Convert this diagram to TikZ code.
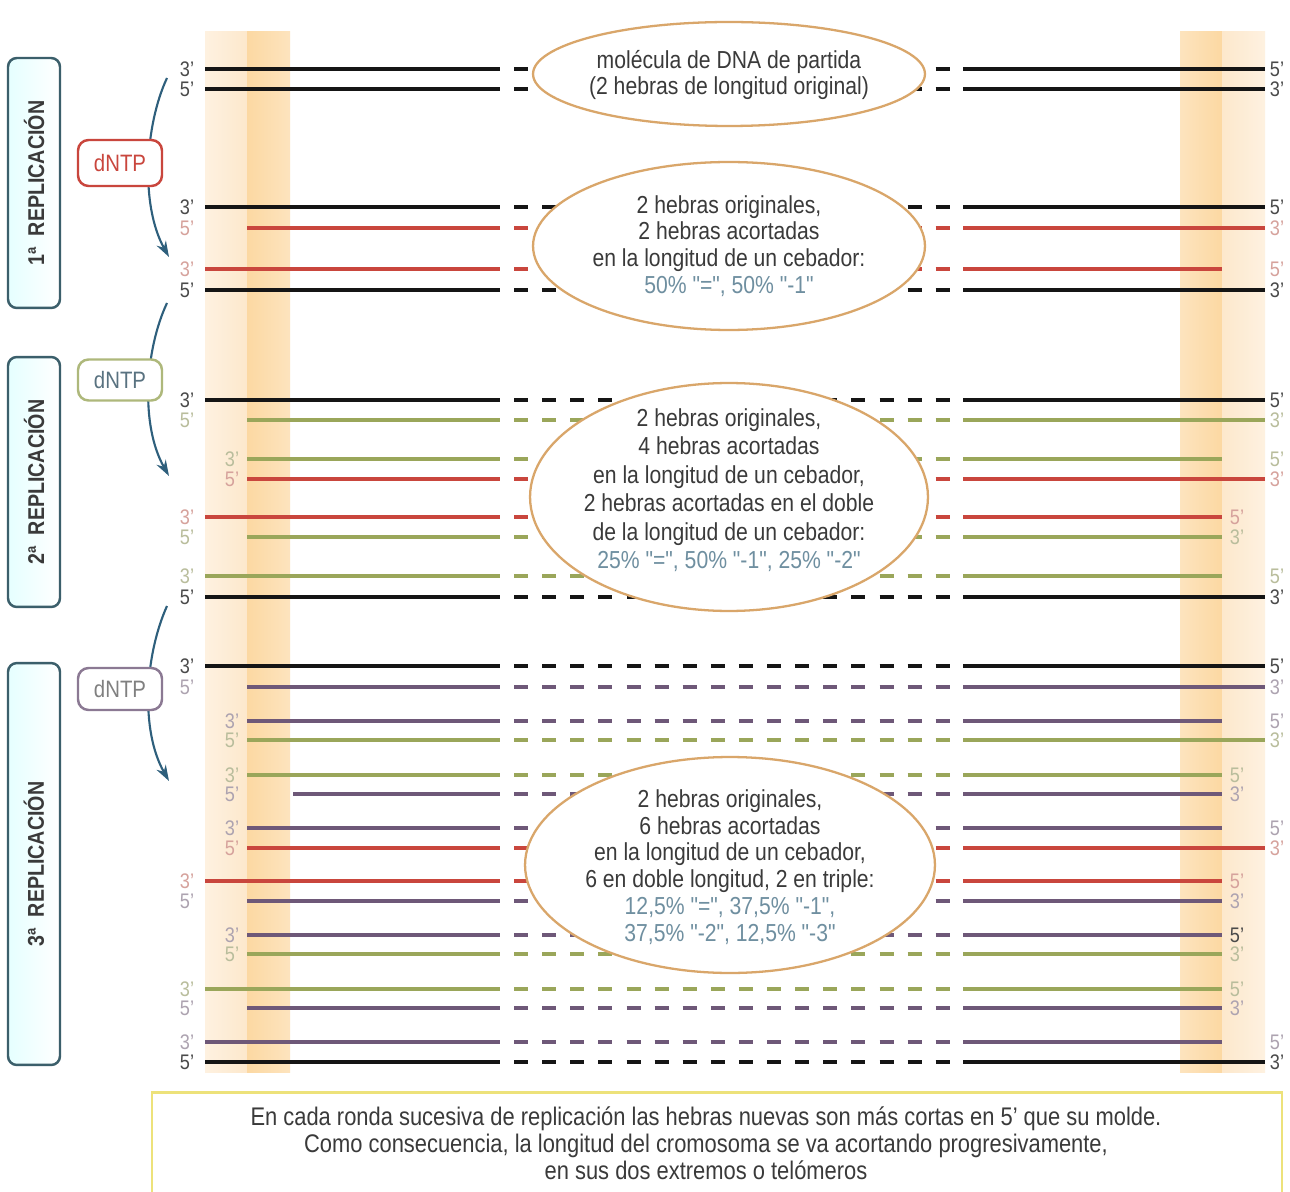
\documentclass[tikz,border=0pt]{standalone}
\usepackage{fontspec}
\setmainfont{Liberation Sans}[FakeStretch=0.86]
\newfontfamily\nomapfont{Liberation Sans}[FakeStretch=0.86,Ligatures=TeXOff]
\newcommand{\dq}{{\nomapfont"}}
\usetikzlibrary{shapes.geometric,arrows.meta}
\definecolor{blk}{HTML}{151515}
\definecolor{rd}{HTML}{C9463D}
\definecolor{gr}{HTML}{9AA65A}
\definecolor{pu}{HTML}{6E5878}
\definecolor{bandA}{HTML}{FDE8CC}
\definecolor{bandB}{HTML}{FCD8A2}
\definecolor{ellc}{HTML}{D9A66A}
\definecolor{arrc}{HTML}{2E5F7C}
\definecolor{boxc}{HTML}{3B5F6B}
\definecolor{pct}{HTML}{6F8FA0}
\definecolor{txt}{HTML}{3A3A3A}
\definecolor{labk}{HTML}{4A4A4A}
\definecolor{labl}{HTML}{ABABAB}
\definecolor{labr}{HTML}{D6A29C}
\definecolor{labg}{HTML}{B9BD9C}
\definecolor{labp}{HTML}{ADA3B0}
\definecolor{bottomc}{HTML}{EDE27A}
\tikzset{
  kline/.style={draw=blk,line width=2.3pt},
  rline/.style={draw=rd,line width=1.9pt},
  gline/.style={draw=gr,line width=1.9pt},
  pline/.style={draw=pu,line width=1.9pt},
  dashpat/.style={dash pattern=on 8pt off 8pt,dash phase=8pt},
  lab/.style={inner sep=0pt,font=\fontsize{12}{12}\selectfont},
  ell/.style={ellipse,draw=ellc,line width=1.3pt,fill=white},
  etext/.style={align=center,text=txt,font=\fontsize{14}{15.2}\selectfont},
  repbox/.style={draw=boxc,line width=1.4pt,rounded corners=5pt,left color=cyan!10,right color=white,minimum width=1.04cm},
  reptext/.style={rotate=90,text=txt,font=\fontsize{13}{15}\selectfont\bfseries},
  dbox/.style={rounded corners=6pt,line width=1.4pt,fill=white,minimum width=1.68cm,font=\fontsize{13.5}{14}\selectfont},
  arr/.style={draw=arrc,line width=1.2pt,-{Stealth[length=9pt,width=6pt]}}
}
\newcommand{\strand}[4]{%
  \draw[#4] (#2,#1) -- (500,#1);
  \draw[#4,dashpat] (500,#1) -- (963,#1);
  \draw[#4] (963,#1) -- (#3,#1);}
\newcommand{\lab}[4]{\node[lab,text=#4] (l-#1-#2) at (#1,#2) {#3};}
\begin{document}
\begin{tikzpicture}[x=0.02cm,y=-0.02cm]
\useasboundingbox (0,0) rectangle (1290,1192);
\fill[white] (0,0) rectangle (1290,1192);
% bands
\shade[left color=bandA!60,right color=bandA] (205,32) rectangle (247,1072);
\shade[left color=bandB,right color=bandB!70] (247,32) rectangle (290,1072);
\shade[left color=bandB!70,right color=bandB] (1180,32) rectangle (1222,1072);
\shade[left color=bandA,right color=bandA!60] (1222,32) rectangle (1265,1072);
% section 0
\strand{69}{205}{1265}{kline}
\strand{89}{205}{1265}{kline}
% section 1
\strand{207}{205}{1265}{kline}
\strand{228}{247}{1265}{rline}
\strand{269}{205}{1222}{rline}
\strand{290}{205}{1265}{kline}
% section 2
\strand{400}{205}{1265}{kline}
\strand{420}{247}{1265}{gline}
\strand{459}{247}{1222}{gline}
\strand{479}{247}{1265}{rline}
\strand{517}{205}{1222}{rline}
\strand{537}{247}{1222}{gline}
\strand{576}{205}{1222}{gline}
\strand{597}{205}{1265}{kline}
% section 3
\strand{666}{205}{1265}{kline}
\strand{687}{247}{1265}{pline}
\strand{721}{247}{1222}{pline}
\strand{740}{247}{1265}{gline}
\strand{775}{247}{1222}{gline}
\strand{794}{293}{1222}{pline}
\strand{828}{247}{1222}{pline}
\strand{848}{247}{1265}{rline}
\strand{881}{205}{1222}{rline}
\strand{901}{247}{1222}{pline}
\strand{935}{247}{1222}{pline}
\strand{954}{247}{1222}{gline}
\strand{989}{205}{1222}{gline}
\strand{1008}{247}{1222}{pline}
\strand{1042}{205}{1222}{pline}
\strand{1062}{205}{1265}{kline}
% ellipses
\node[ell,minimum width=7.84cm,minimum height=2.08cm] (e1) at (729,74) {};
\node[etext] (t1) at (729,75) {molécula de DNA de partida\\(2 hebras de longitud original)};
\node[ell,minimum width=7.84cm,minimum height=3.36cm] (e2) at (729,246) {};
\node[etext] (t2) at (729,246) {2 hebras originales,\\2 hebras acortadas\\en la longitud de un cebador:\\\textcolor{pct}{50\% \dq=\dq, 50\% \dq-1\dq}};
\node[ell,minimum width=7.96cm,minimum height=4.56cm] (e3) at (729,497) {};
\node[etext,font=\fontsize{14}{16.2}\selectfont] (t3) at (729,490) {2 hebras originales,\\4 hebras acortadas\\en la longitud de un cebador,\\2 hebras acortadas en el doble\\de la longitud de un cebador:\\\textcolor{pct}{25\% \dq=\dq, 50\% \dq-1\dq, 25\% \dq-2\dq}};
\node[ell,minimum width=8.2cm,minimum height=4.32cm] (e4) at (730,865) {};
\node[etext] (t4) at (730,867) {2 hebras originales,\\6 hebras acortadas\\en la longitud de un cebador,\\6 en doble longitud, 2 en triple:\\\textcolor{pct}{12,5\% \dq=\dq, 37,5\% \dq-1\dq,}\\\textcolor{pct}{37,5\% \dq-2\dq, 12,5\% \dq-3\dq}};
% left replication boxes
\node[repbox,minimum height=5cm] (r1) at (34,183) {};
\node[reptext] (rt1) at (r1) {1ª\ \ REPLICACIÓN};
\node[repbox,minimum height=5cm] (r2) at (34,482) {};
\node[reptext] (rt2) at (r2) {2ª\ \ REPLICACIÓN};
\node[repbox,minimum height=8.04cm] (r3) at (34,864) {};
\node[reptext] (rt3) at (r3) {3ª\ \ REPLICACIÓN};
% arrows
\coordinate (a1s) at (167,78); \coordinate (a1e) at (169,257);
\coordinate (a2s) at (167,303); \coordinate (a2e) at (169,476);
\coordinate (a3s) at (167,606); \coordinate (a3e) at (169,781);
\draw[arr] (a1s) .. controls (145,125) and (140,205) .. (a1e);
\draw[arr] (a2s) .. controls (145,350) and (140,425) .. (a2e);
\draw[arr] (a3s) .. controls (145,655) and (140,730) .. (a3e);
% dNTP boxes
\node[dbox,draw=rd,text=rd,minimum height=0.92cm] (d1) at (120,163) {dNTP};
\node[dbox,draw=gr!80,text=pct!80!black,minimum height=0.82cm] (d2) at (120,380) {dNTP};
\node[dbox,draw=pu!80,text=gray,minimum height=0.84cm] (d3) at (120,689) {dNTP};
% labels left
\lab{187}{69}{3'}{labk} \lab{187}{89}{5'}{labk}
\lab{187}{207}{3'}{labk} \lab{187}{228}{5'}{labr}
\lab{187}{269}{3'}{labr} \lab{187}{290}{5'}{labk}
\lab{187}{400}{3'}{labk} \lab{187}{420}{5'}{labg}
\lab{232}{459}{3'}{labg} \lab{232}{479}{5'}{labr}
\lab{187}{517}{3'}{labr} \lab{187}{537}{5'}{labg}
\lab{187}{576}{3'}{labg} \lab{187}{597}{5'}{labk}
\lab{187}{666}{3'}{labk} \lab{187}{687}{5'}{labp}
\lab{232}{721}{3'}{labp} \lab{232}{740}{5'}{labg}
\lab{232}{775}{3'}{labg} \lab{232}{794}{5'}{labp}
\lab{232}{828}{3'}{labp} \lab{232}{848}{5'}{labr}
\lab{187}{881}{3'}{labr} \lab{187}{901}{5'}{labp}
\lab{232}{935}{3'}{labp} \lab{232}{954}{5'}{labg}
\lab{187}{989}{3'}{labg} \lab{187}{1008}{5'}{labp}
\lab{187}{1042}{3'}{labp} \lab{187}{1062}{5'}{labk}
% labels right
\lab{1277}{69}{5'}{labk} \lab{1277}{89}{3'}{labk}
\lab{1277}{207}{5'}{labk} \lab{1277}{228}{3'}{labr}
\lab{1277}{269}{5'}{labr} \lab{1277}{290}{3'}{labk}
\lab{1277}{400}{5'}{labk} \lab{1277}{420}{3'}{labg}
\lab{1277}{459}{5'}{labg} \lab{1277}{479}{3'}{labr}
\lab{1237}{517}{5'}{labr} \lab{1237}{537}{3'}{labg}
\lab{1277}{576}{5'}{labg} \lab{1277}{597}{3'}{labk}
\lab{1277}{666}{5'}{labk} \lab{1277}{687}{3'}{labp}
\lab{1277}{721}{5'}{labp} \lab{1277}{740}{3'}{labg}
\lab{1237}{775}{5'}{labg} \lab{1237}{794}{3'}{labp}
\lab{1277}{828}{5'}{labp} \lab{1277}{848}{3'}{labr}
\lab{1237}{881}{5'}{labr} \lab{1237}{901}{3'}{labp}
\lab{1237}{935}{5'}{labk} \lab{1237}{954}{3'}{labg}
\lab{1237}{989}{5'}{labg} \lab{1237}{1008}{3'}{labp}
\lab{1277}{1042}{5'}{labp} \lab{1277}{1062}{3'}{labk}
% bottom box
\node[draw=bottomc,line width=1.5pt,fill=white,minimum width=22.6cm,minimum height=2.3cm] (bb) at (717,1150) {};
\node[align=center,text=txt,font=\fontsize{14.5}{15.4}\selectfont] (bt) at (706,1143) {En cada ronda sucesiva de replicación las hebras nuevas son más cortas en 5' que su molde.\\Como consecuencia, la longitud del cromosoma se va acortando progresivamente,\\en sus dos extremos o telómeros};
\end{tikzpicture}
\end{document}
